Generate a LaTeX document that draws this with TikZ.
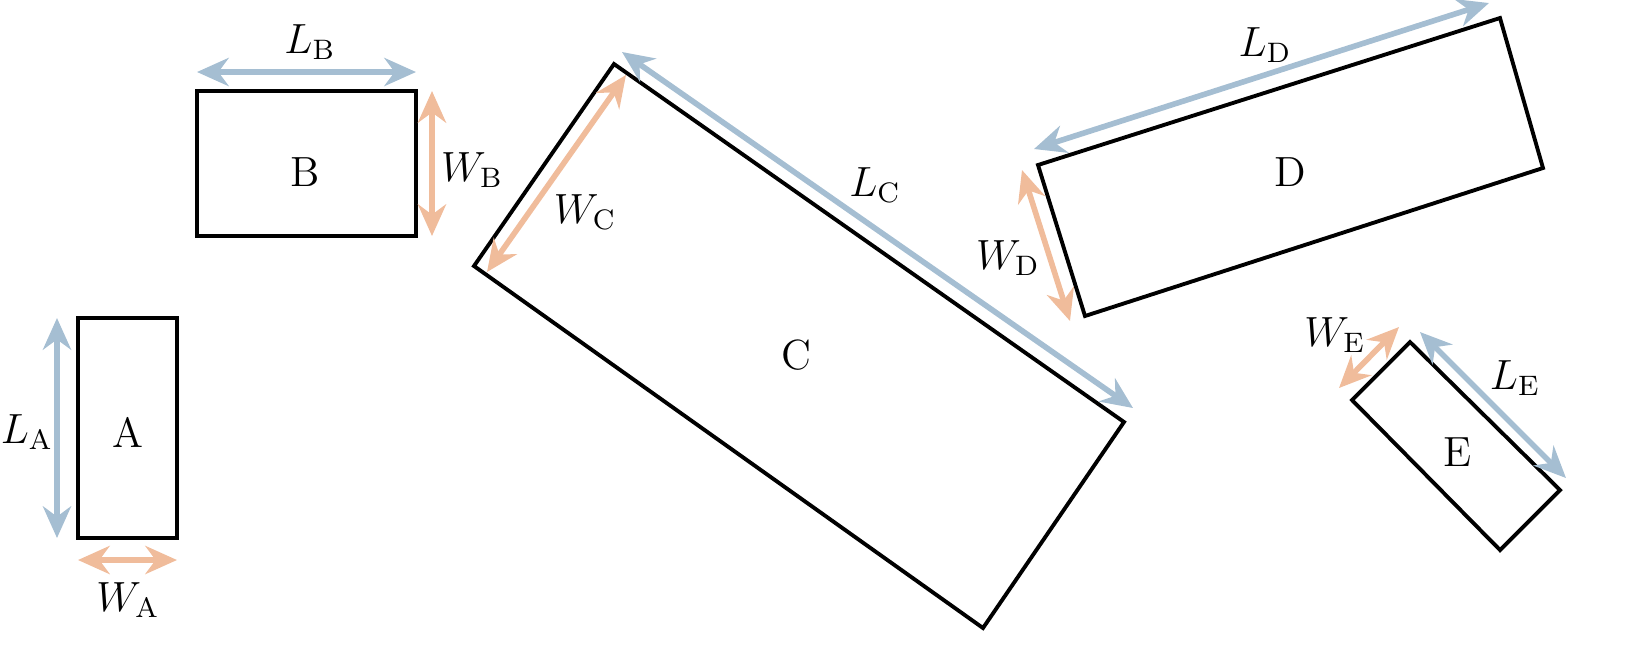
\documentclass[tikz,border=0pt]{standalone}
\usetikzlibrary{arrows.meta}
\definecolor{lenblue}{RGB}{165,190,210}
\definecolor{widorange}{RGB}{240,188,155}
\tikzset{
  box/.style={draw=black, line width=1.1pt},
  lenarrow/.style={draw=lenblue, line width=1.6pt, {Stealth[length=9pt,width=8pt]}-{Stealth[length=9pt,width=8pt]}},
  widarrow/.style={draw=widorange, line width=1.6pt, {Stealth[length=9pt,width=8pt]}-{Stealth[length=9pt,width=8pt]}},
  lbl/.style={font=\large}
}
\begin{document}
\begin{tikzpicture}[x=0.01cm, y=-0.01cm]
    \useasboundingbox (0,0) rectangle (1626,656);

    % Rechteck A
    \draw[box] (78,318) rectangle (177,538);
    \node[lbl] (a) at (128,432) {A};
    \coordinate (la1) at (57,318); \coordinate (la2) at (57,538);
    \coordinate (wa1) at (78,560); \coordinate (wa2) at (177,560);
    \draw[lenarrow] (la1) -- (la2);
    \draw[widarrow] (wa1) -- (wa2);
    \node[lbl] (lA) at (27,432) {$L_{\mathrm{A}}$};
    \node[lbl] (wA) at (128,600) {$W_{\mathrm{A}}$};

    % Rechteck B
    \draw[box] (197,91) rectangle (416,236);
    \node[lbl] (b) at (305,172) {B};
    \coordinate (lb1) at (197,72); \coordinate (lb2) at (416,72);
    \coordinate (wb1) at (432,91); \coordinate (wb2) at (432,236);
    \draw[lenarrow] (lb1) -- (lb2);
    \draw[widarrow] (wb1) -- (wb2);
    \node[lbl] (lB) at (310,42) {$L_{\mathrm{B}}$};
    \node[lbl] (wB) at (472,170) {$W_{\mathrm{B}}$};

    % Rechteck C
    \draw[box] (614,64) -- (1124,422) -- (983,628) -- (474,266) -- cycle;
    \node[lbl] (c) at (796,355) {C};
    \coordinate (lc1) at (622,52); \coordinate (lc2) at (1133,408);
    \coordinate (wc1) at (626,75); \coordinate (wc2) at (487,272);
    \draw[lenarrow] (lc1) -- (lc2);
    \draw[widarrow] (wc1) -- (wc2);
    \node[lbl] (lC) at (875,185) {$L_{\mathrm{C}}$};
    \node[lbl] (wC) at (585,212) {$W_{\mathrm{C}}$};

    % Rechteck D
    \draw[box] (1038,165) -- (1500,18) -- (1543,168) -- (1085,316) -- cycle;
    \node[lbl] (d) at (1290,172) {D};
    \coordinate (ld1) at (1034,149); \coordinate (ld2) at (1489,3);
    \coordinate (wd1) at (1022,170); \coordinate (wd2) at (1070,321);
    \draw[lenarrow] (ld1) -- (ld2);
    \draw[widarrow] (wd1) -- (wd2);
    \node[lbl] (lD) at (1265,45) {$L_{\mathrm{D}}$};
    \node[lbl] (wD) at (1008,258) {$W_{\mathrm{D}}$};

    % Rechteck E
    \draw[box] (1352,400) -- (1410,342) -- (1560,490) -- (1500,550) -- cycle;
    \node[lbl] (e) at (1458,452) {E};
    \coordinate (le1) at (1420,332); \coordinate (le2) at (1566,478);
    \coordinate (we1) at (1339,388); \coordinate (we2) at (1399,327);
    \draw[lenarrow] (le1) -- (le2);
    \draw[widarrow] (we1) -- (we2);
    \node[lbl] (lE) at (1515,378) {$L_{\mathrm{E}}$};
    \node[lbl] (wE) at (1335,335) {$W_{\mathrm{E}}$};
\end{tikzpicture}
\end{document}
